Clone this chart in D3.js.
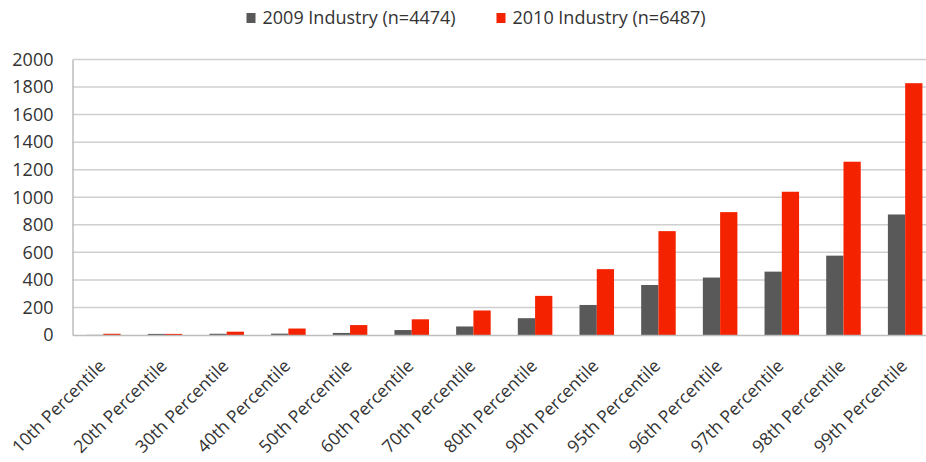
<!DOCTYPE html>
<html><head><meta charset="utf-8">
<script src="https://cdn.jsdelivr.net/npm/d3@7"></script>
<style>html,body{margin:0;padding:0;background:#fff;overflow:hidden}svg{display:block}</style>
</head><body><svg id="chart" width="926" height="462"></svg>
<script>
const categories = ["10th Percentile","20th Percentile","30th Percentile","40th Percentile","50th Percentile","60th Percentile","70th Percentile","80th Percentile","90th Percentile","95th Percentile","96th Percentile","97th Percentile","98th Percentile","99th Percentile"];
const seriesNames = ["2009 Industry (n=4474)", "2010 Industry (n=6487)"];
const values2009 = [1, 8, 9, 10, 15, 36, 62, 122, 218, 363, 417, 460, 576, 875];
const values2010 = [9, 8, 24, 47, 72, 114, 178, 284, 478, 754, 892, 1040, 1258, 1828];
const yTicks = [0,200,400,600,800,1000,1200,1400,1600,1800,2000];
const colors = ["#595959", "#f52200"];

(function () {
const svg = d3.select("#chart");
const font = "'Open Sans', 'Noto Sans', sans-serif";
const mLeft = 72.5, mRight = 936, mTop = 59.5, mBottom = 335;

const x = d3.scaleBand().domain(categories).range([mLeft, mRight]).paddingInner(0.44).paddingOuter(0.22);
const xs = d3.scaleBand().domain([0,1]).range([0, x.bandwidth()]);
const y = d3.scaleLinear().domain([0, 2000]).range([mBottom, mTop]);

// gridlines
svg.append("g").selectAll("line").data(yTicks.filter(d => d > 0)).join("line")
  .attr("x1", mLeft).attr("x2", 926)
  .attr("y1", d => y(d)).attr("y2", d => y(d))
  .attr("stroke", "#cfcfcf").attr("stroke-width", 1.5);

// y axis
const yAxis = svg.append("g").attr("transform", `translate(${mLeft},0)`)
  .call(d3.axisLeft(y).tickValues(yTicks).tickFormat(d3.format("d")).tickSize(0).tickPadding(19));
yAxis.select(".domain").attr("stroke", "#bdbdbd").attr("stroke-width", 1.5);
yAxis.selectAll("text").attr("font-family", font).attr("font-size", 18).attr("fill", "#333");

// bars
const series = [values2009, values2010];
series.forEach((vals, si) => {
  svg.append("g").selectAll("rect").data(vals).join("rect")
    .attr("x", (d, i) => x(categories[i]) + xs(si))
    .attr("width", xs.bandwidth())
    .attr("y", d => y(d))
    .attr("height", d => y(0) - y(d))
    .attr("fill", colors[si]);
});

// x axis
const xAxis = svg.append("g").attr("transform", `translate(0,${mBottom})`)
  .call(d3.axisBottom(x).tickSize(0).tickPadding(0));
xAxis.select(".domain").attr("stroke", "#bdbdbd").attr("stroke-width", 1.5);
xAxis.selectAll("text")
  .attr("font-family", font).attr("font-size", 17.5).attr("fill", "#333")
  .attr("text-anchor", "end").attr("dy", 0)
  .attr("transform", "translate(3,32) rotate(-45)");

// legend
const legend = svg.append("g");
const lx = [246.5, 496.5];
seriesNames.forEach((name, i) => {
  legend.append("rect").attr("x", lx[i]).attr("y", 13).attr("width", 9).attr("height", 10).attr("fill", colors[i]);
  legend.append("text").attr("x", lx[i] + 16).attr("y", 18).attr("dy", "0.35em")
    .attr("font-family", font).attr("font-size", 18).attr("fill", "#333").text(name);
});
})();
</script></body></html>
